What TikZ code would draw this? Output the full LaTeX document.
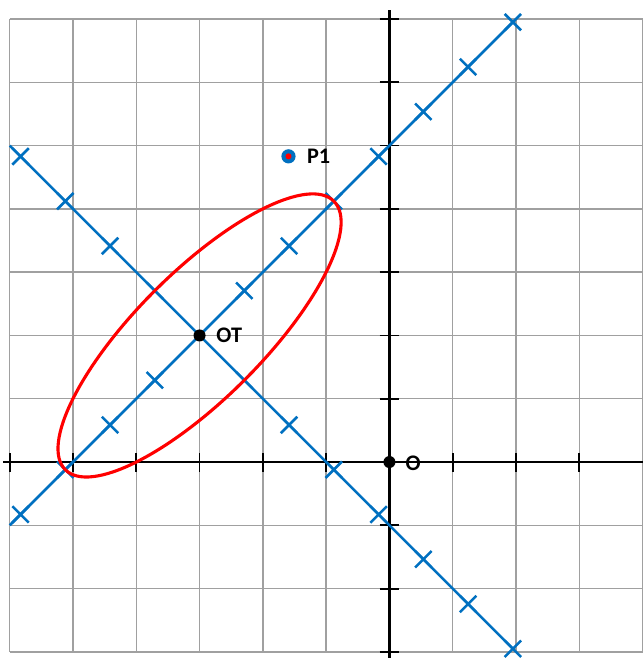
\documentclass[tikz,border=0pt]{standalone}
\usepackage{fontspec}
\setmainfont{Carlito}
\usetikzlibrary{shapes.misc}
\definecolor{xlblue}{RGB}{0,112,192}
\definecolor{gridgrey}{RGB}{160,160,160}
\begin{document}
\begin{tikzpicture}[
  gridline/.style={gridgrey, line width=0.6pt},
  axisline/.style={black, line width=1.25pt},
  tickmark/.style={black, line width=0.8pt},
  blueline/.style={xlblue, line width=1.15pt},
  xmark/.style={cross out, draw=xlblue, line width=1.15pt, minimum size=0.26cm, inner sep=0pt, outer sep=0pt},
  dotnode/.style={circle, fill=black, inner sep=0pt, minimum size=0.19cm},
  lbl/.style={font=\bfseries\fontsize{10}{12}\selectfont, inner sep=0pt, anchor=west},
  ellipsecurve/.style={red, line width=1.4pt}
]
\useasboundingbox (-6.153,-3.096) rectangle (4.0,7.30);
% grid
\draw[gridline] (-6,-3) grid (4,7);
% axes
\coordinate (xl) at (-6.1,0);
\coordinate (xr) at (4.0,0);
\coordinate (yb) at (0,-3.096);
\coordinate (yt) at (0,7.14);
\draw[axisline] (xl) -- (xr);
\draw[axisline] (yb) -- (yt);
\foreach \i in {-6,-5,-4,-3,-2,-1,1,2,3} \draw[tickmark] (\i,-0.15) -- (\i,0.15);
\foreach \j in {-3,-2,-1,1,2,3,4,5,6,7} \draw[tickmark] (-0.155,\j) -- (0.155,\j);
% blue lines
\coordinate (A1) at (-6,-1);
\coordinate (B1) at (1.9497,6.9497);
\coordinate (A2) at (-6,5);
\coordinate (B2) at (1.9497,-2.9497);
\draw[blueline] (A1) -- (B1);
\draw[blueline] (A2) -- (B2);
% markers
\foreach \k in {-4,-3,-2,-1,1,2,3,4,5,6,7} {
  \pgfmathsetmacro{\dx}{0.707107*\k}
  \node[xmark] (ma\k) at ({-3+\dx},{2+\dx}) {};
  \node[xmark] (mb\k) at ({-3+\dx},{2-\dx}) {};
}
% ellipse
\draw[ellipsecurve, rotate around={45:(-3,2)}] (-3,2) ellipse [x radius=3, y radius=1];
% points
\node[dotnode] (OT) at (-3,2) {};
\node[dotnode] (O) at (0,0) {};
\node[circle, fill=xlblue, inner sep=0pt, minimum size=0.225cm] (P1) at (-1.595,4.83) {};
\fill[red] (P1.center) circle (0.048);
% labels
\node[lbl] (OTlbl) at (-2.74,1.995) {OT};
\node[lbl] (P1lbl) at (-1.308,4.83) {P1};
\node[lbl] (Olbl) at (0.25,-0.02) {O};
\end{tikzpicture}
\end{document}
